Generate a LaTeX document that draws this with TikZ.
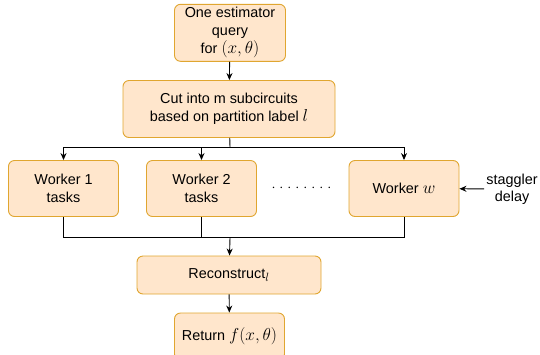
\documentclass[tikz,border=0pt]{standalone}
\usepackage{fontspec}
\setmainfont{Liberation Sans}
\usetikzlibrary{arrows.meta}
\definecolor{boxfill}{HTML}{FFE6CC}
\definecolor{boxline}{HTML}{E0A630}
\newcommand{\fmath}[1]{{\fontsize{17.28}{18}\selectfont$#1$}}
\tikzstyle{process} = [rectangle, rounded corners=6pt, inner sep=0pt, text centered, draw=boxline, fill=boxfill, line width=0.9pt, font=\fontsize{14.4}{18}\selectfont]
\tikzstyle{plain} = [inner sep=2pt, text centered, font=\fontsize{14.4}{17}\selectfont]
\tikzstyle{arrow} = [line width=0.9pt,->,>={Stealth[length=7pt,width=6pt]}]
\tikzstyle{line} = [line width=0.9pt,-]

\begin{document}
\begin{tikzpicture}[x=1pt, y=1pt]
    \useasboundingbox (0,0) rectangle (540,-354);
    \node (query) [process, align=center, minimum width=111pt, minimum height=57pt] at (230,-32.8) {One estimator \\ query \\ for \fmath{(x,\theta)}};
    \node (cut_circ) [process, align=center, minimum width=212pt, minimum height=57pt] at (229,-109) {Cut into m subcircuits \\ based on partition label \fmath{l}};
    \node (worker1) [process, align=center, minimum width=110pt, minimum height=56pt] at (63.5,-188.5) {Worker 1 \\ tasks};
    \node (worker2) [process, align=center, minimum width=110pt, minimum height=56pt] at (201.5,-188.5) {Worker 2 \\ tasks};
    \node (dots) [plain] at (301.5,-188.5) {${\cdot}\mkern5mu{\cdot}\mkern5mu{\cdot}\mkern5mu{\cdot}\mkern5mu{\cdot}\mkern5mu{\cdot}\mkern5mu{\cdot}\mkern5mu{\cdot}$};
    \node (worker_w) [process, align=center, minimum width=110pt, minimum height=56pt] at (404,-188.5) {Worker \fmath{w}};
    \node (staggler) [plain, align=center] at (512,-189) {staggler \\ delay};
    \node (reconstruct) [process, align=center, minimum width=184pt, minimum height=38pt] at (229,-275) {Reconstruct\fmath{_l}};
    \node (return) [process, align=center, minimum width=110pt, minimum height=47pt] at (229.5,-336.5) {Return \fmath{f(x,\theta)}};

    \coordinate (split) at (230,-147.5);
    \coordinate (merge) at (230,-237.5);

    \draw [arrow] (query) -- (cut_circ);
    \draw [line] (cut_circ) -- (split);
    \draw [arrow] (split) -| (worker1);
    \draw [arrow] (split) -| (worker2);
    \draw [arrow] (split) -| (worker_w);
    \draw [arrow] (staggler) -- (worker_w);
    \draw [line] (worker1) |- (merge);
    \draw [line] (worker2) |- (merge);
    \draw [line] (worker_w) |- (merge);
    \draw [arrow] (merge) -- (reconstruct);
    \draw [arrow] (reconstruct) -- (return);
\end{tikzpicture}
\end{document}
